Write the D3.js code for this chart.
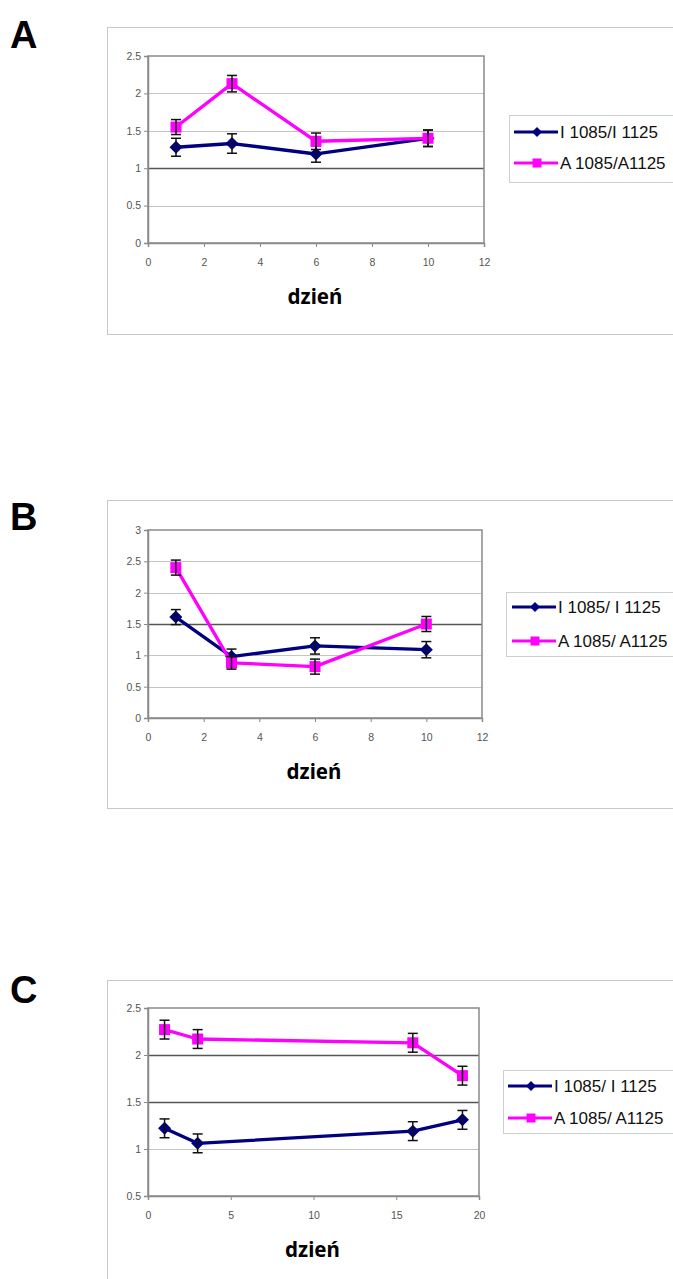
<!DOCTYPE html>
<html>
<head>
<meta charset="utf-8">
<script src="https://cdnjs.cloudflare.com/ajax/libs/d3/7.8.5/d3.min.js"></script>
<style>
  body { margin: 0; background: #fff; }
  svg { display: block; }
</style>
</head>
<body>
<div id="chart"></div>
<script>
// days (x) for each panel
const daysAB = [1, 3, 6, 10];
const daysC = [1, 3, 16, 19];

// panel A
const iA = [1.28, 1.33, 1.19, 1.40];
const iAerr = [0.12, 0.13, 0.11, 0.11];
const aA = [1.55, 2.13, 1.36, 1.40];
const aAerr = [0.10, 0.11, 0.11, 0.11];

// panel B
const iB = [1.61, 0.98, 1.15, 1.09];
const iBerr = [0.12, 0.12, 0.13, 0.13];
const aB = [2.40, 0.88, 0.82, 1.50];
const aBerr = [0.12, 0.10, 0.12, 0.12];

// panel C
const iC = [1.22, 1.06, 1.19, 1.31];
const iCerr = [0.10, 0.10, 0.10, 0.10];
const aC = [2.27, 2.17, 2.13, 1.78];
const aCerr = [0.10, 0.10, 0.10, 0.10];

const yTicksA = [0, 0.5, 1, 1.5, 2, 2.5];
const yTicksB = [0, 0.5, 1, 1.5, 2, 2.5, 3];
const yTicksC = [0.5, 1, 1.5, 2, 2.5];
const xTicksAB = [0, 2, 4, 6, 8, 10, 12];
const xTicksC = [0, 5, 10, 15, 20];

const legendA = ["I 1085/I 1125", "A 1085/A1125"];
const legendBC = ["I 1085/ I 1125", "A 1085/ A1125"];
const xTitle = "dzień";

const NAVY = "#000080";
const MAGENTA = "#ff00ff";

const W = 673, H = 1279;

let svg = d3.select("#chart").append("svg")
    .attr("width", W)
    .attr("height", H);

let panels = [
  { letter: "A", letterY: 48,
    box: { x: 107, y: 27, h: 307 },
    plot: { l: 148, r: 484, t: 56, b: 243 },
    xDom: [0, 12], yDom: [0, 2.5], xTicks: xTicksAB, yTicks: yTicksA, dark: [1],
    days: daysAB, iv: iA, ie: iAerr, av: aA, ae: aAerr,
    legend: { x: 509, y: 115, h: 67, rows: [132, 163], lx: 514, labels: legendA } },
  { letter: "B", letterY: 530,
    box: { x: 107, y: 500, h: 308 },
    plot: { l: 148, r: 482, t: 530, b: 718 },
    xDom: [0, 12], yDom: [0, 3], xTicks: xTicksAB, yTicks: yTicksB, dark: [1.5],
    days: daysAB, iv: iB, ie: iBerr, av: aB, ae: aBerr,
    legend: { x: 506, y: 592, h: 64, rows: [607, 641], lx: 512, labels: legendBC } },
  { letter: "C", letterY: 1003,
    box: { x: 107, y: 980, h: 400 },
    plot: { l: 148, r: 479, t: 1008, b: 1196 },
    xDom: [0, 20], yDom: [0.5, 2.5], xTicks: xTicksC, yTicks: yTicksC, dark: [1.5, 2],
    days: daysC, iv: iC, ie: iCerr, av: aC, ae: aCerr,
    legend: { x: 503, y: 1070, h: 63, rows: [1086, 1118], lx: 508, labels: legendBC } }
];

function diamond(g, cx, cy, r, color) {
  g.append("path")
    .attr("d", `M${cx},${cy - r}L${cx + r},${cy}L${cx},${cy + r}L${cx - r},${cy}Z`)
    .attr("fill", color);
}
function square(g, cx, cy, s, color) {
  g.append("rect")
    .attr("x", cx - s / 2).attr("y", cy - s / 2)
    .attr("width", s).attr("height", s)
    .attr("fill", color);
}

panels.forEach(p => {
  // panel letter
  svg.append("text")
    .attr("x", 10).attr("y", p.letterY)
    .attr("font-family", "Liberation Sans, Arial, sans-serif")
    .attr("font-weight", "bold")
    .attr("font-size", 38)
    .text(p.letter);

  // outer chart box (runs off the right edge)
  svg.append("rect")
    .attr("x", p.box.x + 0.5).attr("y", p.box.y + 0.5)
    .attr("width", W).attr("height", p.box.h)
    .attr("fill", "none")
    .attr("stroke", "#c8c8c8")
    .attr("stroke-width", 1);

  let x = d3.scaleLinear().domain(p.xDom).range([p.plot.l, p.plot.r]);
  let y = d3.scaleLinear().domain(p.yDom).range([p.plot.b, p.plot.t]);

  let g = svg.append("g");

  // gridlines
  g.selectAll("line.grid")
    .data(p.yTicks.filter(v => v > p.yDom[0] && v < p.yDom[1]))
    .enter().append("line")
    .attr("x1", p.plot.l).attr("x2", p.plot.r)
    .attr("y1", d => Math.round(y(d)) + 0.5).attr("y2", d => Math.round(y(d)) + 0.5)
    .attr("stroke", d => p.dark.includes(d) ? "#555" : "#c4c4c4")
    .attr("stroke-width", d => p.dark.includes(d) ? 1.3 : 1);

  // plot area border
  g.append("rect")
    .attr("x", p.plot.l).attr("y", p.plot.t)
    .attr("width", p.plot.r - p.plot.l).attr("height", p.plot.b - p.plot.t)
    .attr("fill", "none")
    .attr("stroke", "#8a8a8a")
    .attr("stroke-width", 1.5);

  // axes
  let yAxis = g.append("g")
    .attr("transform", `translate(${p.plot.l},0)`)
    .call(d3.axisLeft(y).tickValues(p.yTicks).tickSize(4).tickPadding(3)
      .tickFormat(d3.format("")));
  let xAxis = g.append("g")
    .attr("transform", `translate(0,${p.plot.b})`)
    .call(d3.axisBottom(x).tickValues(p.xTicks).tickSize(4).tickPadding(12));
  [yAxis, xAxis].forEach(a => {
    a.select(".domain").attr("stroke", "#8a8a8a").attr("stroke-width", 1.5);
    a.selectAll(".tick line").attr("stroke", "#8a8a8a");
    a.selectAll("text")
      .attr("fill", "#555")
      .attr("font-family", "Liberation Sans, Arial, sans-serif")
      .attr("font-size", 10.5);
  });

  // x axis title
  svg.append("text")
    .attr("x", (p.plot.l + p.plot.r) / 2 - 1)
    .attr("y", p.plot.b + 61)
    .attr("text-anchor", "middle")
    .attr("font-family", "Noto Sans, Open Sans, sans-serif")
    .attr("font-weight", "bold")
    .attr("font-size", 20.5)
    .text(xTitle);

  // series
  let series = [
    { vals: p.iv, errs: p.ie, color: NAVY, mark: "d" },
    { vals: p.av, errs: p.ae, color: MAGENTA, mark: "s" }
  ];
  series.forEach(s => {
    let pts = p.days.map((d, i) => ({ d: d, v: s.vals[i], e: s.errs[i] }));
    g.append("path")
      .datum(pts)
      .attr("fill", "none")
      .attr("stroke", s.color)
      .attr("stroke-width", 3.3)
      .attr("stroke-linejoin", "round")
      .attr("d", d3.line().x(q => x(q.d)).y(q => y(q.v)));

    pts.forEach(q => {
      let cx = x(q.d);
      if (s.mark === "d") diamond(g, cx, y(q.v), 6.5, s.color);
      else square(g, cx, y(q.v), 11, s.color);
    });

    let eb = g.append("g").attr("stroke", "#111").attr("stroke-width", 1.5);
    pts.forEach(q => {
      let cx = x(q.d);
      eb.append("line").attr("x1", cx).attr("x2", cx)
        .attr("y1", y(q.v + q.e)).attr("y2", y(q.v - q.e));
      [q.v + q.e, q.v - q.e].forEach(v => {
        eb.append("line").attr("x1", cx - 5).attr("x2", cx + 5)
          .attr("y1", y(v)).attr("y2", y(v));
      });
    });
  });

  // legend
  let L = p.legend;
  let lg = svg.append("g");
  lg.append("rect")
    .attr("x", L.x + 0.5).attr("y", L.y + 0.5)
    .attr("width", W).attr("height", L.h)
    .attr("fill", "#fff")
    .attr("stroke", "#c8d0d0");
  series.forEach((s, i) => {
    let ry = L.rows[i];
    lg.append("line")
      .attr("x1", L.lx).attr("x2", L.lx + 44)
      .attr("y1", ry).attr("y2", ry)
      .attr("stroke", s.color).attr("stroke-width", 3);
    if (s.mark === "d") diamond(lg, L.lx + 23, ry, 5, s.color);
    else square(lg, L.lx + 23, ry, 9, s.color);
    lg.append("text")
      .attr("x", L.lx + 46).attr("y", ry + 6)
      .attr("font-family", "Liberation Sans, Arial, sans-serif")
      .attr("font-size", 17)
      .attr("fill", "#111")
      .text(L.labels[i]);
  });
});
</script>
</body>
</html>
